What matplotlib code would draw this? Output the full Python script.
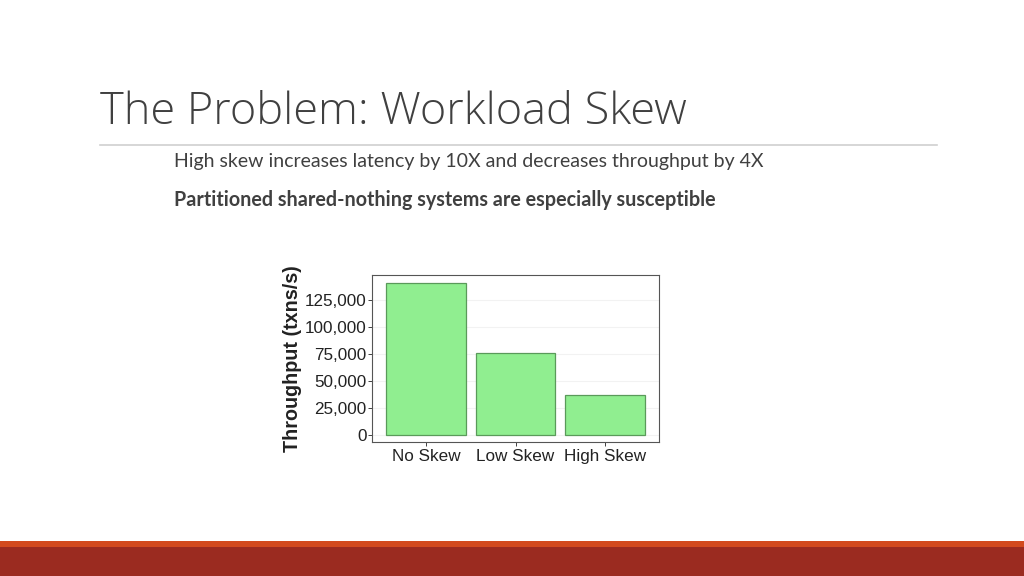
import matplotlib.pyplot as plt
from matplotlib.patches import Rectangle
from matplotlib.ticker import FuncFormatter

categories = ['No Skew', 'Low Skew', 'High Skew']
throughput = [140500, 76000, 37000]
yticks = [0, 25000, 50000, 75000, 100000, 125000]

title = 'The Problem: Workload Skew'
bullet1 = 'High skew increases latency by 10X and decreases throughput by 4X'
bullet2 = 'Partitioned shared-nothing systems are especially susceptible'

fig = plt.figure(figsize=(10.24, 5.76), dpi=100)
W, H = 1024, 576

# slide text
fig.text(100 / W, 1 - 113 / H, title, fontsize=32.5, color='#404040',
         family='Open Sans', va='center', ha='left', fontweight='light')
fig.add_artist(plt.Line2D([100 / W, 937 / W], [1 - 145 / H, 1 - 145 / H],
                          color='#d0d0d0', lw=1.2))
fig.text(174 / W, 1 - 162 / H, bullet1, fontsize=14, color='#404040',
         family='Lato', va='center', ha='left')
fig.text(174 / W, 1 - 200 / H, bullet2, fontsize=14.2, color='#404040',
         family='Lato', va='center', ha='left', fontweight='bold')

# bottom band
fig.add_artist(Rectangle((0, 0), 1, 29 / H, transform=fig.transFigure,
                         color='#9b2b20', lw=0))
fig.add_artist(Rectangle((0, 29 / H), 1, 6 / H, transform=fig.transFigure,
                         color='#d24a1e', lw=0))

# chart
ax = fig.add_axes([372 / W, 1 - 442 / H, (659 - 372) / W, (442 - 275) / H])
x = range(len(categories))
ax.bar(x, throughput, width=0.89, color='#90ee90', edgecolor='#5a9a5a', lw=0.9,
       zorder=3)
ax.set_xlim(-0.6, 2.6)
ax.set_ylim(-6500, 148000)
ax.set_yticks(yticks)
ax.yaxis.set_major_formatter(FuncFormatter(lambda v, p: f'{int(v):,}'))
ax.set_xticks(list(x))
ax.set_xticklabels(categories)
for lbl in ax.get_xticklabels() + ax.get_yticklabels():
    lbl.set_family('Liberation Sans')
ax.tick_params(labelsize=12.3, colors='#222222', length=3, width=0.6, pad=1)
ax.tick_params(axis='x', pad=2)
ax.grid(axis='y', color='#f2f2f2', lw=0.8, zorder=0)
for s in ax.spines.values():
    s.set_color('#555555')
    s.set_linewidth(0.8)
ax.set_ylabel('Throughput (txns/s)', fontsize=14.2, fontweight='bold',
              color='#222222', labelpad=2, family='Liberation Sans')

plt.savefig('out.png', dpi=100)
plt.close()
